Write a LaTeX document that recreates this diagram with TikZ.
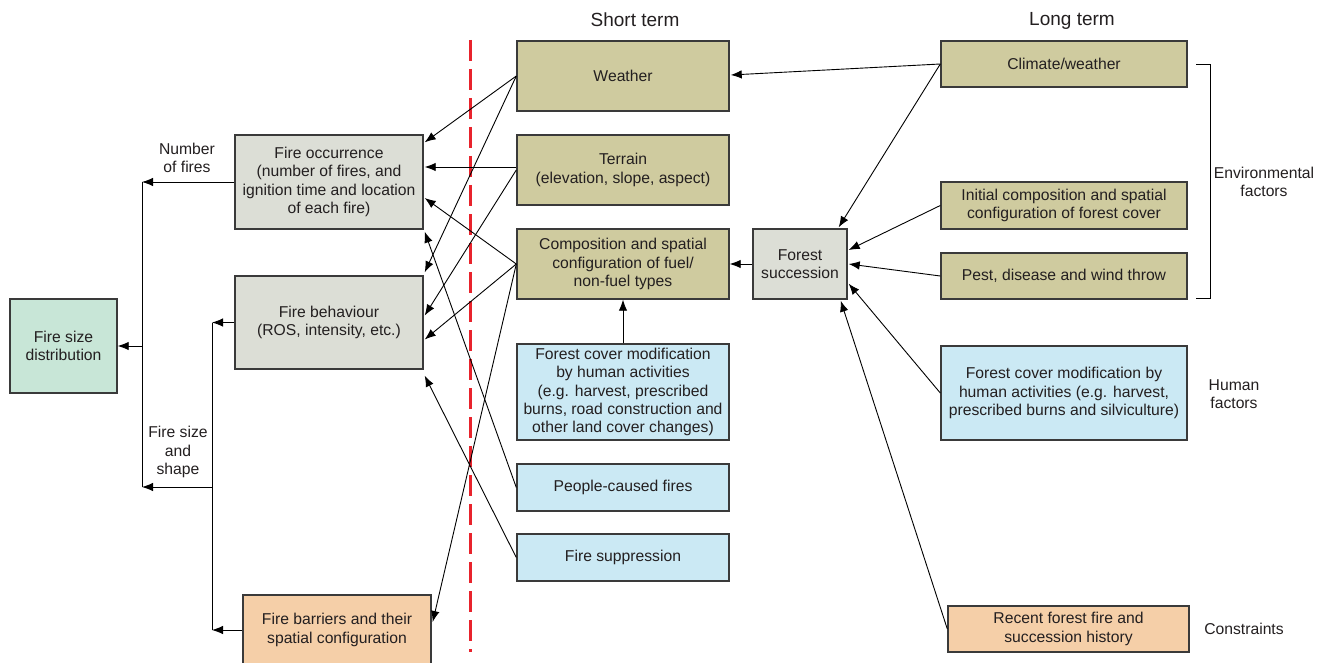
\documentclass[tikz,border=0pt]{standalone}
\usepackage{fontspec}
\setmainfont{Liberation Sans}
\usetikzlibrary{arrows.meta,calc}
\definecolor{khaki}{HTML}{CFCB9F}
\definecolor{greybox}{HTML}{DCDED6}
\definecolor{greenbox}{HTML}{C8E6D7}
\definecolor{bluebox}{HTML}{CBE9F4}
\definecolor{peach}{HTML}{F5CFA8}
\definecolor{boxline}{HTML}{3A3A3A}
\definecolor{txt}{HTML}{231F20}
\definecolor{redline}{HTML}{E8232C}
\begin{document}
\begin{tikzpicture}[x=1pt,y=-1pt,
  box/.style={draw=boxline, line width=1.4pt, inner sep=0pt, align=center,
    font=\fontsize{15.7}{18.3}\selectfont, text=txt},
  lbl/.style={inner sep=0pt, align=center, font=\fontsize{15.7}{18.3}\selectfont, text=txt},
  ttl/.style={inner sep=0pt, font=\fontsize{19}{22}\selectfont, text=txt},
  arr/.style={-{Latex[length=11pt,width=8.5pt]}, line width=0.9pt, draw=black},
  ln/.style={line width=0.9pt, draw=black},
  dashline/.style={draw=redline, line width=3pt, dash pattern=on 21pt off 8pt}]
\useasboundingbox (0,0) rectangle (1327,663);

% titles
\node[ttl] (tshort) at (635,20) {Short term};
\node[ttl] (tlong) at (1072,21) {Long term};

% red dashed separator
\draw[dashline] (470,40) -- (470,652);

% left column
\node[box, fill=greenbox, minimum width=107pt, minimum height=94pt] (fsd) at (63.5,346) {Fire size\\distribution};
\node[box, fill=greybox, minimum width=188pt, minimum height=94pt] (fo) at (329,182) {Fire occurrence\\(number of fires, and\\ignition time and location\\of each fire)};
\node[box, fill=greybox, minimum width=188pt, minimum height=93pt] (fb) at (329,322.5) {Fire behaviour\\(ROS, intensity, etc.)};
\node[box, fill=peach, minimum width=188pt, minimum height=70pt] (fbar) at (337,630) {Fire barriers and their\\spatial configuration};

% short term column
\node[box, fill=khaki, minimum width=212pt, minimum height=70pt] (weather) at (623,76) {Weather};
\node[box, fill=khaki, minimum width=212pt, minimum height=70pt] (terrain) at (623,170) {Terrain\\(elevation, slope, aspect)};
\node[box, fill=khaki, minimum width=212pt, minimum height=70pt] (comp) at (623,264) {Composition and spatial\\configuration of fuel/\\non-fuel types};
\node[box, fill=bluebox, minimum width=212pt, minimum height=96pt] (fcms) at (623,392) {Forest cover modification\\by human activities\\(e.g. harvest, prescribed\\burns, road construction and\\other land cover changes)};
\node[box, fill=bluebox, minimum width=212pt, minimum height=47pt] (people) at (623,487.5) {People-caused fires};
\node[box, fill=bluebox, minimum width=212pt, minimum height=47pt] (supp) at (623,557.5) {Fire suppression};

% forest succession
\node[box, fill=greybox, minimum width=94pt, minimum height=70pt] (fs) at (800,264) {Forest\\succession};

% long term column
\node[box, fill=khaki, minimum width=246pt, minimum height=46pt] (climate) at (1064,64) {Climate/weather};
\node[box, fill=khaki, minimum width=246pt, minimum height=47pt] (initial) at (1064,205.5) {Initial composition and spatial\\configuration of forest cover};
\node[box, fill=khaki, minimum width=246pt, minimum height=46pt] (pest) at (1064,276) {Pest, disease and wind throw};
\node[box, fill=bluebox, minimum width=246pt, minimum height=94pt] (fcml) at (1064,393) {Forest cover modification by\\human activities (e.g. harvest,\\prescribed burns and silviculture)};
\node[box, fill=peach, minimum width=241pt, minimum height=46pt] (recent) at (1068.5,629) {Recent forest fire and\\succession history};

% side labels
\node[lbl] (envlbl) at (1264,182) {Environmental\\factors};
\node[lbl] (humlbl) at (1234,394) {Human\\factors};
\node[lbl] (conlbl) at (1244,629) {Constraints};
\node[lbl] (nflbl) at (187,158) {Number\\of fires};
\node[lbl] (fsslbl) at (178,452) {Fire size\\and\\shape};

% bracket for environmental factors
\coordinate (bt) at (1196,64);
\coordinate (bb) at (1196,298);
\draw[ln] (bt) -- ++(14,0) |- (bb);

% left collector lines
\coordinate (ja) at (142,182);
\coordinate (jb) at (142,487);
\coordinate (jfsd) at (142,346);
\coordinate (jc) at (212,322.5);
\coordinate (jd) at (212,630);
\coordinate (je) at (212,487);
\draw[arr] (fo.west) -- (ja);
\draw[ln] (ja) -- (jb);
\draw[arr] (jfsd) -- (fsd.east);
\draw[arr] (fb.west) -- (jc);
\draw[arr] (fbar.west) -- (jd);
\draw[ln] (jc) -- (jd);
\draw[arr] (je) -- (jb);

% short-term factors to fire occurrence / behaviour
\draw[arr] (weather.west) -- ($(fo.north east)+(1,8)$);
\draw[arr] (weather.west) -- ($(fb.north east)+(1,-3)$);
\draw[arr] ($(terrain.west)+(0,-3)$) -- ($(fo.east)+(1,-15)$);
\draw[arr] (terrain.west) -- ($(fb.east)+(1,-7)$);
\draw[arr] (comp.west) -- ($(fo.east)+(1,16)$);
\draw[arr] (comp.west) -- ($(fb.east)+(1,17)$);
\draw[arr] (comp.west) -- ($(fbar.east)+(1,-8)$);
\draw[arr] (people.west) -- ($(fo.south east)+(1,2)$);
\draw[arr] (supp.west) -- ($(fb.south east)+(1,6)$);
\draw[arr] (fcms.north) -- (comp.south);

% long-term factors
\draw[arr] (climate.west) -- ($(weather.east)+(1,-1)$);
\draw[arr] (climate.west) -- ($(fs.north east)+(-9,-1)$);
\draw[arr] (initial.west) -- ($(fs.east)+(1,-14)$);
\draw[arr] (pest.west) -- ($(fs.east)+(1,0)$);
\draw[arr] (fs.west) -- (comp.east);
\draw[arr] (fcml.west) -- ($(fs.south east)+(1,-16)$);
\draw[arr] (recent.west) -- ($(fs.south east)+(-7,1)$);
\end{tikzpicture}
\end{document}
